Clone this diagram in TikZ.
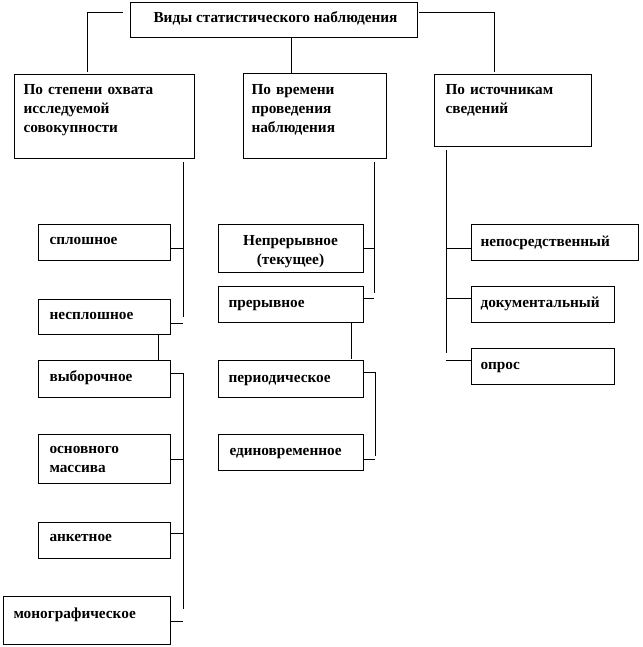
\documentclass[tikz,border=0pt]{standalone}
\usepackage{fontspec}
\setmainfont{Liberation Serif}
\newcommand\mkbox[5]{\node[bx, minimum width={(#4)-(#2)}, minimum height={(#5)-(#3)}, anchor=north west] (#1) at (#2,#3) {};}
\begin{document}
\begin{tikzpicture}[x=1pt,y=-1pt, line width=1pt,
  bx/.style={draw, rectangle, inner sep=0pt, outer sep=0pt},
  tx/.style={inner sep=0pt, font=\bfseries\fontsize{15.3}{19}\selectfont, align=left, anchor=base west},
  txm/.style={inner sep=0pt, font=\bfseries\fontsize{15.3}{19}\selectfont, text width=140pt, align=left, anchor=base west},
  txc/.style={inner sep=0pt, font=\bfseries\fontsize{15.3}{19}\selectfont, text width=140pt, align=center, anchor=base}]
\useasboundingbox (0,0) rectangle (642,647);
% boxes
\mkbox{top}{130}{3}{417}{38}
\mkbox{cA}{14}{75}{194}{159}
\mkbox{cB}{243}{74}{386}{159}
\mkbox{cC}{434}{75}{591}{147}
\mkbox{La}{38}{224}{170}{260}
\mkbox{Lb}{38}{299}{170}{334}
\mkbox{Lc}{38}{360}{170}{397}
\mkbox{Ld}{38}{434}{170}{483}
\mkbox{Le}{38}{522}{170}{558}
\mkbox{Lf}{3}{596}{170}{644}
\mkbox{Ma}{218}{224}{363}{272}
\mkbox{Mb}{218}{286}{363}{322}
\mkbox{Mc}{218}{360}{363}{397}
\mkbox{Md}{218}{434}{363}{470}
\mkbox{Ra}{471}{224}{638}{260}
\mkbox{Rb}{471}{286}{614}{322}
\mkbox{Rc}{471}{348}{614}{384}
% texts (text-width nodes: anchor is the baseline of the first line)
\node[tx] (tTop) at (153,23) {Виды статистического наблюдения};
\node[txm] (tA) at (23,95) {По степени охвата\\исследуемой\\совокупности};
\node[txm] (tB) at (251,95) {По времени\\проведения\\наблюдения};
\node[txm] (tC) at (445,95) {По источникам\\сведений};
\node[tx] (tLa) at (49,244) {сплошное};
\node[tx] (tLb) at (49,319) {несплошное};
\node[tx] (tLc) at (49,381) {выборочное};
\node[tx] (tLd1) at (49,453) {основного};
\node[tx] (tLd2) at (49,472) {массива};
\node[tx] (tLe) at (49,541) {анкетное};
\node[tx] (tLf) at (13,618) {монографическое};
\node[txc] (tMa) at (290.5,245) {Непрерывное\\(текущее)};
\node[tx] (tMb) at (228,307) {прерывное};
\node[tx] (tMc) at (228,382) {периодическое};
\node[tx] (tMd) at (229,455) {единовременное};
\node[tx] (tRa) at (480,246) {непосредственный};
\node[tx] (tRb) at (480,307) {документальный};
\node[tx] (tRc) at (480,369) {опрос};
% junction coordinates
\coordinate (tl0) at (123,13);
\coordinate (tl1) at (87,13);
\coordinate (tl2) at (87,72);
\coordinate (tm0) at (291,38);
\coordinate (tm1) at (291,74);
\coordinate (tr0) at (419,13);
\coordinate (tr1) at (494,13);
\coordinate (tr2) at (494,72);
\coordinate (sA0) at (183,162);
\coordinate (sA1) at (183,317);
\coordinate (ja) at (183,248);
\coordinate (jb) at (183,323);
\coordinate (jc) at (183,373);
\coordinate (sA2) at (183,609);
\coordinate (jd) at (183,459);
\coordinate (je) at (183,533);
\coordinate (jf) at (183,621);
\coordinate (sB0) at (374,162);
\coordinate (sB1) at (374,293);
\coordinate (ka) at (374,248);
\coordinate (kb) at (374,298);
\coordinate (kc) at (375,372);
\coordinate (sB2) at (375,456);
\coordinate (kd) at (375,459);
\coordinate (sC0) at (446,150);
\coordinate (sC1) at (446,353);
% connectors
\draw (tl0) -- (tl1) -- (tl2);
\draw (top.south -| tm0) -- (tm1);
\draw (tr0) -- (tr1) -- (tr2);
\draw (sA0) -- (sA1);
\draw (La.east |- ja) -- (ja);
\draw (Lb.east |- jb) -- (jb);
\draw (Lb.south -| 158,0) -- (Lc.north -| 158,0);
\draw (Lc.east |- jc) -- (jc) -- (sA2);
\draw (Ld.east |- jd) -- (jd);
\draw (Le.east |- je) -- (je);
\draw (Lf.east |- jf) -- (jf);
\draw (sB0) -- (sB1);
\draw (Ma.east |- ka) -- (ka);
\draw (Mb.east |- kb) -- (kb);
\draw (Mb.south -| 351,0) -- (351,359);
\draw (Mc.east |- kc) -- (kc) -- (sB2);
\draw (Md.east |- kd) -- (kd);
\draw (sC0) -- (sC1);
\draw (Ra.west |- 0,248) -- (446,248);
\draw (Rb.west |- 0,298) -- (446,298);
\draw (Rc.west |- 0,360) -- (446,360);
\end{tikzpicture}
\end{document}
